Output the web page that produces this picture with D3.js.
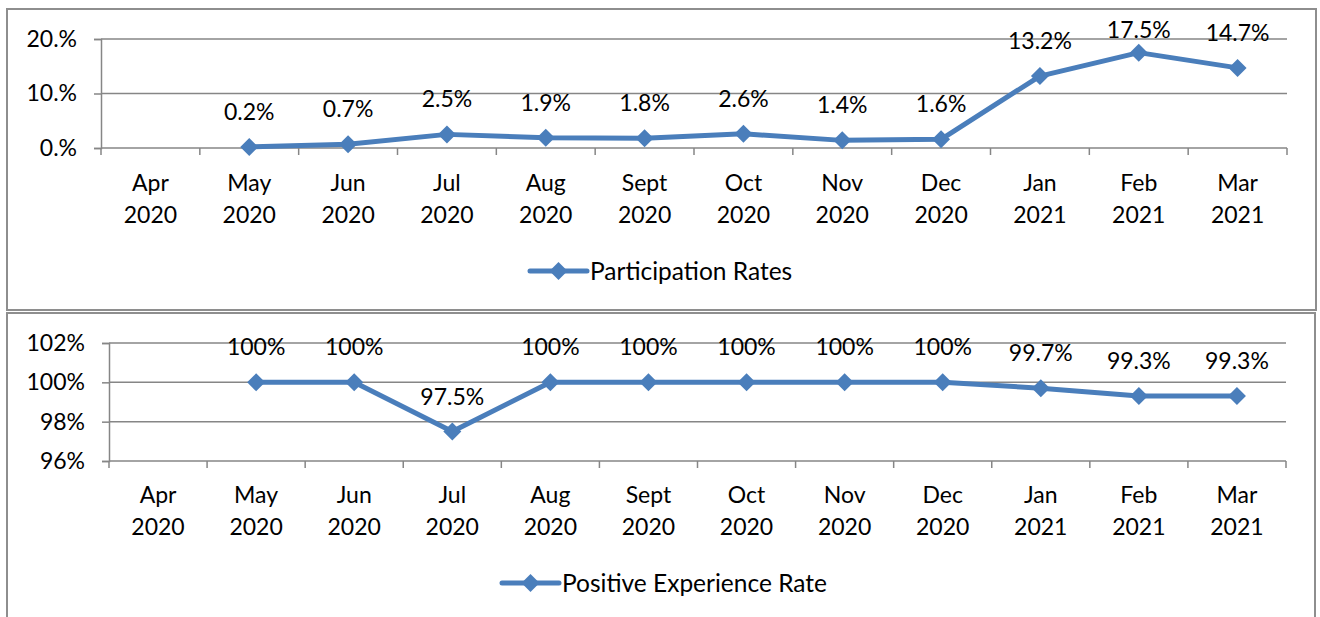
<!DOCTYPE html>
<html>
<head>
<meta charset="utf-8">
<script src="https://cdn.jsdelivr.net/npm/d3@7"></script>
<style>
    body { margin: 0; background: #fff; }
    text { font-family: Lato, "Open Sans", sans-serif; fill: #000; }
</style>
</head>
<body>
<svg id="chart" width="1320" height="617"></svg>
<script>
// months shown on both charts
const months = ["Apr", "May", "Jun", "Jul", "Aug", "Sept", "Oct", "Nov", "Dec", "Jan", "Feb", "Mar"];
const years = ["2020", "2020", "2020", "2020", "2020", "2020", "2020", "2020", "2020", "2021", "2021", "2021"];

// participation rates, % (no value for Apr)
const participation = [null, 0.2, 0.7, 2.5, 1.9, 1.8, 2.6, 1.4, 1.6, 13.2, 17.5, 14.7];
const participationTicks = [0, 10, 20];

// positive experience rate, %
const positive = [null, 100, 100, 97.5, 100, 100, 100, 100, 100, 99.7, 99.3, 99.3];
const positiveTicks = [96, 98, 100, 102];

const svg = d3.select("#chart");
const blue = "#4a7ebb";
const grey = "#868686";
const fontSize = 23;

const draw_panel = function (opt) {
    // frame
    svg.append("rect")
        .attr("x", opt.box[0]).attr("y", opt.box[1])
        .attr("width", opt.box[2]).attr("height", opt.box[3])
        .attr("fill", "none")
        .attr("stroke", "#8e8e8e")
        .attr("stroke-width", 2)

    let x = d3.scaleBand().domain(months).range([opt.left, opt.right]).padding(0);
    let y = d3.scaleLinear().domain(opt.domain).range(opt.yrange);
    let g = svg.append("g");

    // gridlines
    g.selectAll(".grid")
        .data(opt.ticks.slice(1))
        .join("line")
        .attr("class", "grid")
        .attr("x1", opt.left).attr("x2", opt.right)
        .attr("y1", d => y(d)).attr("y2", d => y(d))
        .attr("stroke", grey)
        .attr("stroke-width", 1.5)

    // y axis
    let yAxis = g.append("g")
        .attr("transform", `translate(${opt.left},0)`)
        .call(d3.axisLeft(y)
            .tickValues(opt.ticks)
            .tickSize(7)
            .tickPadding(17)
            .tickFormat(opt.tickFormat))
    yAxis.select(".domain").attr("stroke", grey).attr("stroke-width", 1.5);
    yAxis.selectAll(".tick line").attr("stroke", grey).attr("stroke-width", 1.5);
    yAxis.selectAll(".tick text")
        .attr("font-size", fontSize)
        .attr("font-family", "Lato, sans-serif")
        .attr("fill", "#000")

    // x axis baseline and ticks at band edges
    let base = y(opt.domain[0]);
    g.append("line")
        .attr("x1", opt.left).attr("x2", opt.right)
        .attr("y1", base).attr("y2", base)
        .attr("stroke", grey).attr("stroke-width", 1.5)
    let edges = months.map(m => x(m)).concat([opt.right]);
    g.selectAll(".xtick")
        .data(edges)
        .join("line")
        .attr("class", "xtick")
        .attr("x1", d => d).attr("x2", d => d)
        .attr("y1", base).attr("y2", base + 7)
        .attr("stroke", grey).attr("stroke-width", 1.5)

    // category labels on two lines
    let lab = g.selectAll(".xlab")
        .data(months)
        .join("text")
        .attr("class", "xlab")
        .attr("text-anchor", "middle")
        .attr("font-size", fontSize)
    lab.append("tspan")
        .attr("x", d => x(d) + x.bandwidth() / 2)
        .attr("y", opt.labelY)
        .attr("dy", "0.35em")
        .text(d => d)
    lab.append("tspan")
        .attr("x", d => x(d) + x.bandwidth() / 2)
        .attr("y", opt.labelY + 32)
        .attr("dy", "0.35em")
        .text((d, i) => years[i])

    let pts = opt.values
        .map((v, i) => ({ m: months[i], v: v }))
        .filter(d => d.v !== null);
    let cx = d => x(d.m) + x.bandwidth() / 2;

    // the line
    g.append("path")
        .datum(pts)
        .attr("fill", "none")
        .attr("stroke", blue)
        .attr("stroke-width", 5)
        .attr("stroke-linejoin", "round")
        .attr("d", d3.line().x(cx).y(d => y(d.v)))

    // diamonds
    let diamond = "M0,-9L9,0L0,9L-9,0Z";
    g.selectAll(".pt")
        .data(pts)
        .join("path")
        .attr("class", "pt")
        .attr("d", diamond)
        .attr("fill", blue)
        .attr("transform", d => `translate(${cx(d)},${y(d.v)})`)

    // data labels, kept inside the chart area
    g.selectAll(".val")
        .data(pts)
        .join("text")
        .attr("class", "val")
        .attr("text-anchor", "middle")
        .attr("font-size", fontSize)
        .attr("x", cx)
        .attr("y", d => Math.max(y(d.v) - 35, opt.labelTop))
        .attr("dy", "0.35em")
        .text(d => opt.valueFormat(d.v))

    // legend
    let lg = g.append("g").attr("transform", `translate(${opt.legend[0]},${opt.legend[1]})`);
    lg.append("line")
        .attr("x1", 0).attr("x2", 57)
        .attr("stroke", blue).attr("stroke-width", 5)
        .attr("stroke-linecap", "round")
    lg.append("path").attr("d", diamond).attr("fill", blue).attr("transform", "translate(28.5,0)");
    lg.append("text")
        .attr("x", 60)
        .attr("dy", "0.35em")
        .attr("font-size", 24.5)
        .text(opt.name)
}

draw_panel({
    box: [7, 9, 1309, 301],
    left: 101, right: 1287,
    domain: [0, 20], yrange: [148, 39],
    ticks: participationTicks,
    tickFormat: d => d + ".%",
    values: participation,
    valueFormat: d => d.toFixed(1) + "%",
    labelTop: 30,
    labelY: 183,
    legend: [530, 271],
    name: "Participation Rates"
})

draw_panel({
    box: [7, 313, 1308, 320],
    left: 109, right: 1286,
    domain: [96, 102], yrange: [461, 343],
    ticks: positiveTicks,
    tickFormat: d => d + "%",
    values: positive,
    valueFormat: d => d === 100 ? "100%" : d.toFixed(1) + "%",
    labelTop: 0,
    labelY: 495,
    legend: [502, 583],
    name: "Positive Experience Rate"
})
</script>
</body>
</html>
